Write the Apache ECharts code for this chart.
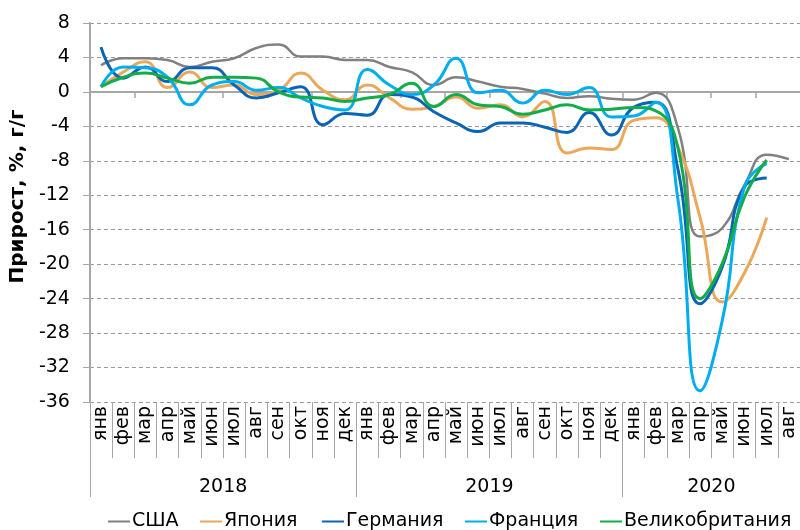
<!DOCTYPE html>
<html>
<head>
<meta charset="utf-8">
<script src="https://cdn.jsdelivr.net/npm/echarts@6/dist/echarts.min.js"></script>
<style>
  html, body { margin: 0; padding: 0; background: #fff; }
  #chart { width: 800px; height: 530px; }
</style>
</head>
<body>
<div id="chart"></div>
<script>
  // месяцы и годы
  var monthNames = ['янв', 'фев', 'мар', 'апр', 'май', 'июн', 'июл', 'авг', 'сен', 'окт', 'ноя', 'дек'];
  var years = ['2018', '2019', '2020'];
  var monthsInYear = [12, 12, 8];

  var yTicks = { min: -36, max: 8, step: 4 };

  // прирост, %, г/г
  var usa = [3.1, 3.9, 3.9, 3.7, 2.9, 3.5, 3.9, 5.1, 5.5, 4.1, 4.1, 3.7,
             3.7, 2.9, 2.3, 0.8, 1.7, 1.2, 0.6, 0.35, -0.2, -0.7, -0.5, -0.8,
             -0.9, -0.1, -4.2, -16.8, -15.8, -10.8, -7.3, -7.8];
  var japan = [0.6, 2.3, 3.5, 0.5, 2.3, 0.5, 0.8, -0.3, 0.2, 2.2, 0.2, -0.9,
               0.8, -0.7, -2.0, -1.7, -0.6, -1.9, -1.5, -2.9, -1.1, -7.1, -6.5, -6.7,
               -3.3, -3.0, -6.4, -14.6, -24.4, -21.0, -14.6, null];
  var germany = [5.2, 1.6, 2.9, 1.2, 2.8, 2.8, 0.8, -0.7, -0.1, 0.6, -3.8, -2.5,
                 -2.7, -0.3, -0.6, -2.3, -3.6, -4.6, -3.6, -3.6, -4.1, -4.7, -2.4, -5.0,
                 -1.8, -1.2, -9.0, -24.6, -20.3, -11.0, -10.0, null];
  var france = [0.6, 2.9, 2.8, 1.7, -1.5, 0.8, 1.2, 0.2, 0.5, -0.7, -1.7, -2.1,
                2.6, 0.8, -0.3, 0.8, 3.9, -0.1, 0.2, -1.3, 0.2, -0.3, 0.5, -2.9,
                -2.8, -1.2, -12.5, -34.7, -26.5, -11.0, -8.3, null];
  var uk = [0.6, 1.7, 2.2, 1.6, 1.0, 1.7, 1.7, 1.6, 0.0, -0.6, -0.7, -1.1,
            -0.7, -0.3, 1.0, -1.7, -0.3, -1.5, -1.7, -2.6, -2.1, -1.5, -2.1, -2.0,
            -1.8, -2.2, -6.5, -24.0, -19.9, -12.2, -7.9, null];

  var seriesNames = ['США', 'Япония', 'Германия', 'Франция', 'Великобритания'];
  var seriesData = [usa, japan, germany, france, uk];
  var seriesColors = ['#808080', '#EBA85A', '#0B64B4', '#00AEEF', '#12AD4B'];
  var legendLeft = [103, 195, 317, 460, 595];

  // категории: месяц по каждой точке, год подписываем в середине группы
  var monthAxis = [];
  var yearAxis = [];
  var yearStart = {};
  var yearMid = {};
  var k = 0;
  for (var y = 0; y < years.length; y++) {
    yearStart[k] = true;
    yearMid[k + monthsInYear[y] / 2] = years[y];
    for (var m = 0; m < monthsInYear[y]; m++) {
      monthAxis.push(monthNames[m]);
      yearAxis.push('');
      k++;
    }
  }
  for (var idx in yearMid) {
    yearAxis[idx] = yearMid[idx];
  }

  var font = '"DejaVu Sans", Verdana, sans-serif';
  var gray = '#A6A6A6';

  // отдельная легенда на каждую серию, чтобы разнести как в оригинале
  var legends = [];
  for (var j = 0; j < seriesNames.length; j++) {
    legends.push({
      data: [seriesNames[j]],
      left: legendLeft[j],
      top: 507,
      icon: 'rect',
      itemWidth: 22,
      itemHeight: 2,
      textStyle: { fontSize: 19, color: '#000', fontFamily: font, padding: [0, 0, 0, -3] }
    });
  }

  var option = {
    animation: false,
    textStyle: { fontFamily: font },
    grid: { left: 89, top: 23, right: -2, bottom: 128, containLabel: false },
    legend: legends,
    xAxis: [
      {
        // линия нуля
        type: 'category',
        data: monthAxis,
        boundaryGap: true,
        axisLine: { onZero: true, lineStyle: { color: gray, width: 2 } },
        axisTick: { show: true, length: 6, lineStyle: { color: gray, width: 1.5 } },
        axisLabel: { show: false },
        splitLine: { show: false }
      },
      {
        // подписи месяцев
        type: 'category',
        data: monthAxis,
        position: 'bottom',
        boundaryGap: true,
        axisLine: { show: false, onZero: false },
        axisTick: { show: true, interval: 0, length: 56, lineStyle: { color: gray, width: 1 } },
        axisLabel: { interval: 0, rotate: 90, margin: 4, fontSize: 19, color: '#000', fontFamily: font },
        splitLine: { show: false }
      },
      {
        // подписи годов
        type: 'category',
        data: yearAxis,
        position: 'bottom',
        boundaryGap: true,
        axisLine: { show: false, onZero: false },
        axisTick: {
          show: true,
          length: 95,
          interval: function (i) { return yearStart[i] === true; },
          lineStyle: { color: gray, width: 1 }
        },
        axisLabel: {
          interval: function (i, v) { return v !== ''; },
          margin: 76,
          fontSize: 19,
          color: '#000',
          fontFamily: font,
          padding: [0, 22, 0, 0]
        },
        splitLine: { show: false }
      }
    ],
    yAxis: {
      type: 'value',
      min: yTicks.min,
      max: yTicks.max,
      interval: yTicks.step,
      name: 'Прирост, %, г/г',
      nameLocation: 'middle',
      nameGap: 56,
      nameRotate: 90,
      nameTextStyle: { fontSize: 20, fontWeight: 'bold', color: '#000', fontFamily: font, padding: [0, 0, 0, 32] },
      axisLine: { show: true, lineStyle: { color: gray, width: 2 } },
      axisTick: { show: true, length: 7, lineStyle: { color: gray, width: 1 } },
      axisLabel: { margin: 20, fontSize: 19, color: '#000', fontFamily: font },
      splitLine: { show: true, lineStyle: { color: '#9A9A9A', type: [4, 3], width: 1 } }
    },
    series: []
  };

  for (var i = 0; i < seriesNames.length; i++) {
    option.series.push({
      name: seriesNames[i],
      type: 'line',
      xAxisIndex: 0,
      data: seriesData[i],
      smooth: 0.5,
      showSymbol: false,
      symbol: 'none',
      lineStyle: { color: seriesColors[i], width: i === 0 ? 2.5 : 3 },
      itemStyle: { color: seriesColors[i] }
    });
  }

  var myChart = echarts.init(document.getElementById('chart'));
  myChart.setOption(option);
</script>
</body>
</html>
